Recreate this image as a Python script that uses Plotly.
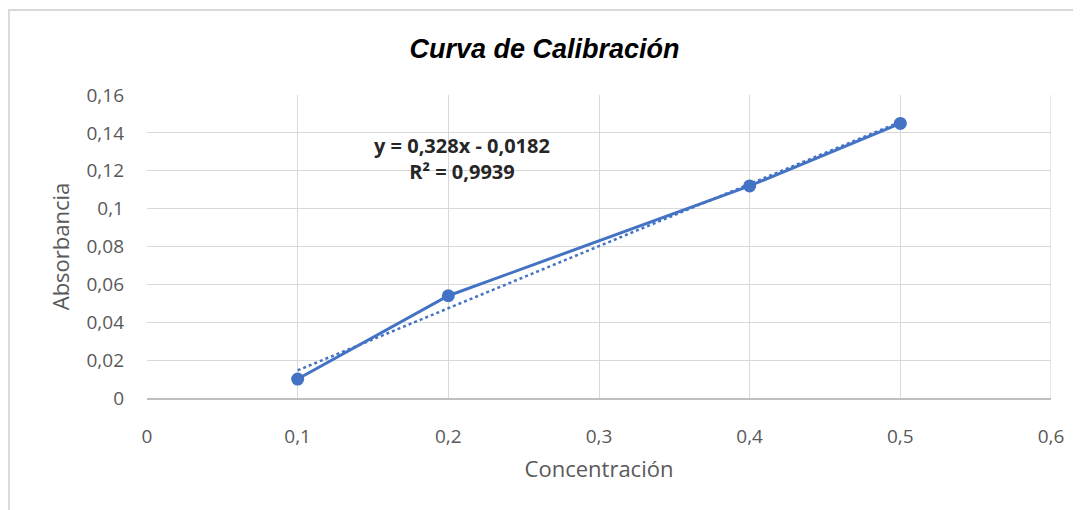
import plotly.graph_objects as go

concentracion = [0.1, 0.2, 0.4, 0.5]
absorbancia = [0.010, 0.054, 0.112, 0.145]
slope = 0.328
intercept = -0.0182
r2 = 0.9939
x_ticks = [0, 0.1, 0.2, 0.3, 0.4, 0.5, 0.6]
x_labels = ["0", "0,1", "0,2", "0,3", "0,4", "0,5", "0,6"]
y_ticks = [0, 0.02, 0.04, 0.06, 0.08, 0.10, 0.12, 0.14, 0.16]
y_labels = ["0", "0,02", "0,04", "0,06", "0,08", "0,1", "0,12", "0,14", "0,16"]

trend_x = [min(concentracion), max(concentracion)]
trend_y = [slope * v + intercept for v in trend_x]

blue = "#4472C4"
font_fam = "Open Sans, Noto Sans, sans-serif"

fig = go.Figure()
fig.add_trace(go.Scatter(x=trend_x, y=trend_y, mode="lines",
                         line=dict(color=blue, width=2.5, dash="dot"),
                         showlegend=False, hoverinfo="skip"))
fig.add_trace(go.Scatter(x=concentracion, y=absorbancia, mode="lines+markers",
                         line=dict(color=blue, width=3),
                         marker=dict(color=blue, size=13),
                         showlegend=False))

fig.add_annotation(x=0.209, y=0.1267, xref="x", yref="y",
                   text=f"y = {str(slope).replace('.', ',')}x - {str(-intercept).replace('.', ',')}<br>R² = {str(r2).replace('.', ',')}",
                   showarrow=False, align="center",
                   font=dict(family="Open Sans, Noto Sans, sans-serif", size=20, color="#262626", weight="bold"))

fig.add_shape(type="rect", xref="paper", yref="paper", x0=-0.1528, x1=1.06, y0=-0.5, y1=1.2805,
              line=dict(color="#d9d9d9", width=2), layer="below")

fig.update_layout(
    width=1073, height=502,
    margin=dict(l=139, r=30, t=87, b=112),
    paper_bgcolor="white", plot_bgcolor="white",
    title=dict(text="<b><i>Curva de Calibración</i></b>", x=0.5, xanchor="center",
               y=0.92, yanchor="middle",
               font=dict(family="Liberation Sans, Arial, sans-serif", size=27, color="#000000")),
    xaxis=dict(range=[0, 0.6], tickvals=x_ticks, ticktext=x_labels,
               showgrid=True, gridcolor="#d9d9d9", gridwidth=1.2,
               zeroline=False, showline=True, linecolor="#bfbfbf", linewidth=1.5,
               tickfont=dict(family=font_fam, size=19, color="#595959"),
               ticks="", ticklabelstandoff=20,
               title=dict(text="Concentración", standoff=14,
                          font=dict(family=font_fam, size=22, color="#595959"))),
    yaxis=dict(range=[0, 0.16], tickvals=y_ticks, ticktext=y_labels,
               showgrid=True, gridcolor="#d9d9d9", gridwidth=1.2,
               zeroline=False, showline=False,
               tickfont=dict(family=font_fam, size=19, color="#595959"),
               ticks="", ticklabelstandoff=22,
               title=dict(text="Absorbancia", standoff=10,
                          font=dict(family=font_fam, size=22, color="#595959"))),
)
fig.add_shape(type="line", xref="x", yref="paper", x0=0.6, x1=0.6, y0=0, y1=1,
              line=dict(color="#d9d9d9", width=1.2), layer="below")

fig.write_html("out.html")
